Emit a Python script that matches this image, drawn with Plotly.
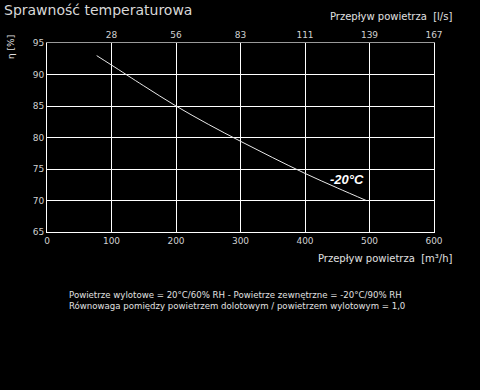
import plotly.graph_objects as go

flow_m3h = [77, 100, 150, 200, 250, 300, 350, 400, 450, 495]
efficiency = [93.0, 91.5, 88.2, 85.0, 82.1, 79.4, 76.8, 74.3, 72.0, 70.0]
series_label = "-20°C"
x_ticks = [0, 100, 200, 300, 400, 500, 600]
top_tickvals = [100, 200, 300, 400, 500, 600]
top_ticktext = ["28", "56", "83", "111", "139", "167"]
y_ticks = [65, 70, 75, 80, 85, 90, 95]

FONT = "DejaVu Sans"
TICK = "#d0d0d0"
TXT = "#e0e0e0"

fig = go.Figure()
fig.add_trace(go.Scatter(x=flow_m3h, y=efficiency, mode="lines",
                         line=dict(color="#e8e8e8", width=1, shape="spline"),
                         showlegend=False, hoverinfo="skip"))
fig.add_trace(go.Scatter(x=[0, 600], y=[None, None], xaxis="x2", showlegend=False,
                         hoverinfo="skip"))

fig.add_annotation(x=465, y=73.3, text="<b><i>" + series_label + "</i></b>", showarrow=False,
                   font=dict(family="Arial, Liberation Sans", size=13, color="white"))

fig.update_layout(
    width=480, height=390,
    paper_bgcolor="black", plot_bgcolor="black",
    margin=dict(l=47, r=46, t=43, b=158, autoexpand=False),
    font=dict(family=FONT, color=TICK, size=9),
    xaxis=dict(range=[0, 600], tickvals=x_ticks, showgrid=True, gridcolor="white",
               gridwidth=1, showline=True, linecolor="white", linewidth=1,
               ticks="", zeroline=False, automargin=False,
               tickfont=dict(size=9, color=TICK)),
    xaxis2=dict(range=[0, 600], overlaying="x", side="top", tickvals=top_tickvals,
                ticktext=top_ticktext, showgrid=False, showline=True,
                linecolor="#9a9a9a", linewidth=1, ticks="", zeroline=False,
                automargin=False, tickfont=dict(size=9, color=TICK)),
    yaxis=dict(range=[65, 95], tickvals=y_ticks, showgrid=True, gridcolor="white",
               gridwidth=1, showline=True, linecolor="white", linewidth=1,
               mirror=True, ticks="", zeroline=False, automargin=False,
               tickfont=dict(size=9, color=TICK)),
)

fig.add_annotation(xref="paper", yref="paper", x=0, xanchor="left", y=1, yanchor="top",
                   xshift=-45, yshift=43, text="Sprawność temperaturowa", showarrow=False,
                   font=dict(family=FONT, size=14, color="#d8d8d8"))
fig.add_annotation(xref="paper", yref="paper", x=1, xanchor="right", y=1, yanchor="bottom",
                   xshift=20, yshift=19, text="Przepływ powietrza  [l/s]", showarrow=False,
                   font=dict(family=FONT, size=10, color=TXT))
fig.add_annotation(xref="paper", yref="paper", x=1, xanchor="right", y=0, yanchor="top",
                   xshift=21, yshift=-19, text="Przepływ powietrza  [m³/h]", showarrow=False,
                   font=dict(family=FONT, size=10, color=TXT))
fig.add_annotation(xref="paper", yref="paper", x=0, xanchor="center", y=1, yanchor="top",
                   xshift=-36, yshift=10, text="η [%]", textangle=-90, showarrow=False,
                   font=dict(family=FONT, size=9, color=TXT))
fig.add_annotation(xref="paper", yref="paper", x=0, xanchor="left", y=0, yanchor="top",
                   xshift=20, yshift=-56,
                   text="Powietrze wylotowe = 20°C/60% RH - Powietrze zewnętrzne = -20°C/90% RH<br>"
                        "Równowaga pomiędzy powietrzem dolotowym / powietrzem wylotowym = 1,0",
                   align="left", showarrow=False,
                   font=dict(family=FONT, size=8.6, color=TXT))

fig.write_html("out.html", config={"displayModeBar": False},
               post_script="document.body.style.margin='0';document.body.style.background='black';")
